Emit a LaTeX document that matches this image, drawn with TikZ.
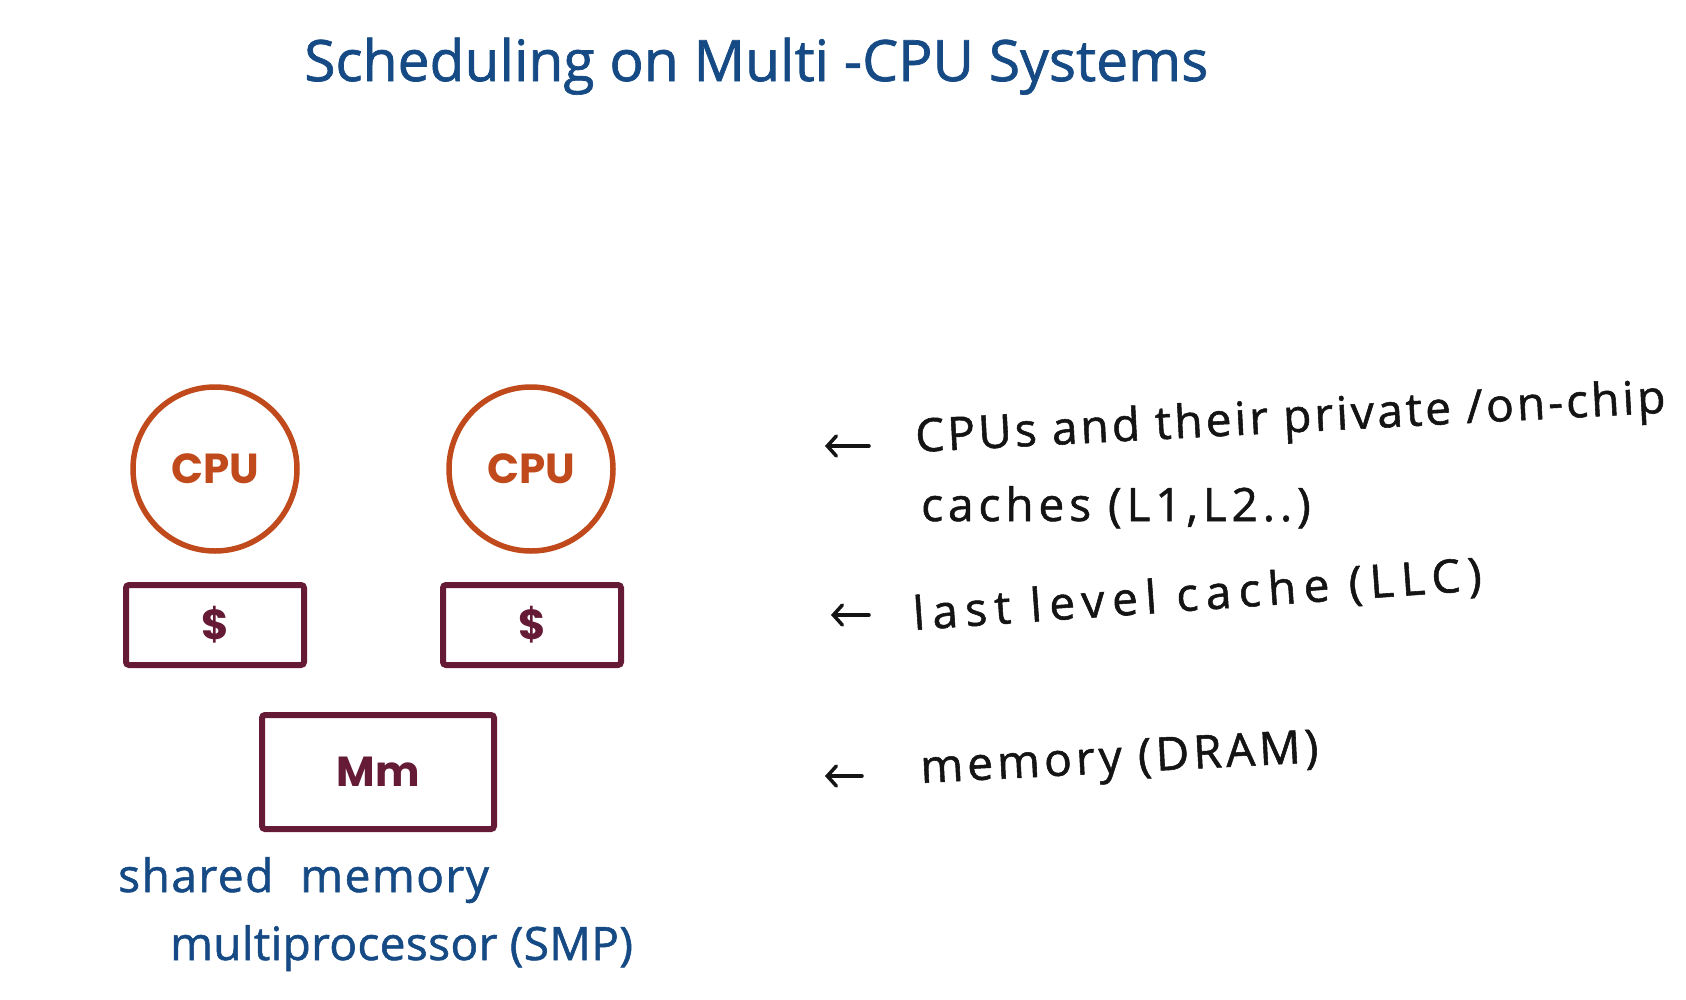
\documentclass[tikz,border=0pt]{standalone}
\usepackage{fontspec}
\setmainfont{Open Sans}
\newfontfamily\boxfont{Poppins}
\newfontfamily\handfont{Open Sans}[FakeBold=1.2]
\usetikzlibrary{arrows.meta}
\definecolor{cpuc}{HTML}{C04A1C}
\definecolor{boxc}{HTML}{651B36}
\definecolor{inkblue}{HTML}{154A85}
\definecolor{inkblack}{HTML}{141414}
\newcommand{\handsz}[1]{\handfont\fontsize{46}{50}\selectfont\addfontfeature{LetterSpace=#1}}
\begin{document}
\begin{tikzpicture}[x=1pt,y=-1pt,
  cpu/.style={circle, draw=cpuc, line width=5.5pt, minimum size=164pt, inner sep=0pt,
    text=cpuc, font=\boxfont\bfseries\fontsize{42}{42}\selectfont},
  cachebox/.style={rectangle, rounded corners=3pt, draw=boxc, line width=6pt,
    minimum width=178pt, minimum height=80pt, inner sep=0pt,
    text=boxc, font=\boxfont\bfseries\fontsize{42}{42}\selectfont},
  membox/.style={cachebox, minimum width=232pt, minimum height=114pt},
  hand/.style={font=\handsz{0}, inner sep=0pt, anchor=base west, text=inkblack},
  bluehand/.style={hand, text=inkblue},
  handarrow/.style={draw=inkblack, line width=3.5pt, line cap=round,
    -{Straight Barb[length=9pt,width=20pt,line cap=round]}}
]
\useasboundingbox (0,0) rectangle (1686,999);
\fill[white] (0,0) rectangle (1686,999);

% title
\node[bluehand, font=\handfont\fontsize{57}{60}\selectfont] (title) at (304,81) {Scheduling on Multi -CPU Systems};

% hardware
\node[cpu] (cpu1) at (215,469) {CPU};
\node[cpu] (cpu2) at (531,469) {CPU};
\node[cachebox] (c1) at (215,625) {\$};
\node[cachebox] (c2) at (532,625) {\$};
\node[membox] (mm) at (378,772) {Mm};

% bottom-left label
\node[bluehand, font=\handsz{3.3}] (smp1) at (118,892) {shared \ memory};
\node[bluehand, font=\handsz{0.8}] (smp2) at (170,960) {multiprocessor (SMP)};

% right-hand notes
\node[hand, font=\handsz{6.8}, rotate=3] (l1) at (916,452) {CPUs and their private /on-chip};
\node[hand, font=\handsz{10.7}] (l1b) at (921,521) {caches (L1,L2..)};
\node[hand, font=\handsz{16.3}, rotate=4] (l2) at (914,630) {last level cache (LLC)};
\node[hand, font=\handsz{9}, rotate=3] (l3) at (921,783) {memory (DRAM)};

% arrows
\coordinate (a1s) at (869,446);
\coordinate (a1e) at (825,446);
\coordinate (a2s) at (869,615);
\coordinate (a2e) at (831,615);
\coordinate (a3s) at (862,776);
\coordinate (a3e) at (825,776);
\draw[handarrow] (a1s) -- (a1e);
\draw[handarrow] (a2s) -- (a2e);
\draw[handarrow] (a3s) -- (a3e);
\end{tikzpicture}
\end{document}
